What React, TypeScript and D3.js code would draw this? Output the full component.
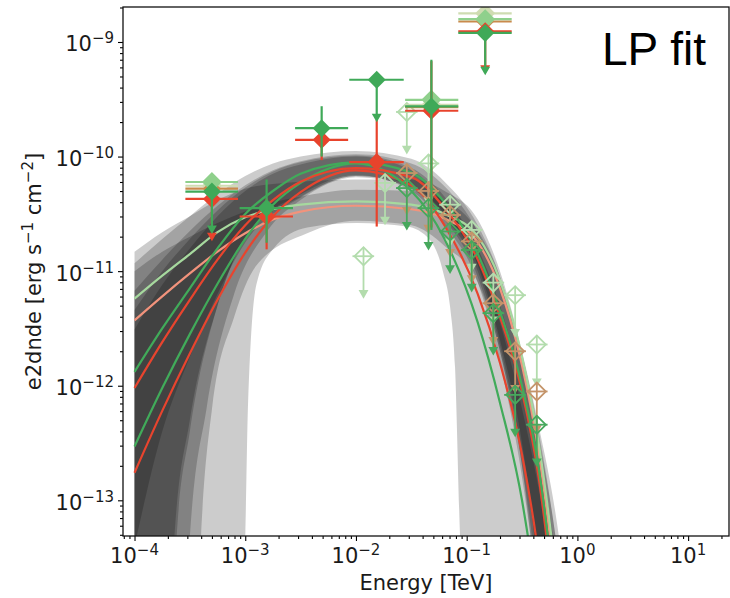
import React, { useEffect, useRef } from "react";
import * as d3 from "d3";

const width = 730;
const height = 598;
const plot = { left: 123, right: 729, top: 7, bottom: 536 };

const energyDomain = [7.87e-5, 23.4];
const fluxDomain = [4.88e-14, 2.02e-9];

const energyMajor = [1e-4, 1e-3, 1e-2, 1e-1, 1, 10];
const energyExp = ["−4", "−3", "−2", "−1", "0", "1"];
const fluxMajor = [1e-13, 1e-12, 1e-11, 1e-10, 1e-9];
const fluxExp = ["−13", "−12", "−11", "−10", "−9"];

// shared energy grid [TeV] for model curves and band upper edges
const gridEnergy = [1e-4, 1.78e-4, 3.16e-4, 5.62e-4, 1e-3, 1.78e-3, 3.16e-3, 1e-2, 3.16e-2, 6.31e-2, 0.126, 0.2, 0.316, 0.447, 0.631, 0.891];

// LP model curves, e2dnde [erg s-1 cm-2]
const lgCurve = [5.75e-12, 9.12e-12, 1.41e-11, 2.19e-11, 2.95e-11, 3.47e-11, 3.8e-11, 4.07e-11, 3.8e-11, 3.16e-11, 2.0e-11, 8.32e-12, 1.78e-12, 3.16e-13, 2.51e-14, 1e-15];
const slCurve = [3.72e-12, 6.03e-12, 9.55e-12, 1.48e-11, 2.14e-11, 2.82e-11, 3.31e-11, 3.72e-11, 3.47e-11, 2.88e-11, 1.78e-11, 7.08e-12, 1.51e-12, 2.63e-13, 2.0e-14, 1e-15];
const g1Curve = [1.32e-12, 3.16e-12, 7.08e-12, 1.58e-11, 3.16e-11, 5.01e-11, 7.08e-11, 8.91e-11, 7.24e-11, 3.98e-11, 1.41e-11, 4.47e-12, 1.0e-12, 1.91e-13, 1.26e-14, 3.16e-16];
const r1Curve = [9.55e-13, 2.4e-12, 5.62e-12, 1.26e-11, 2.51e-11, 4.17e-11, 6.03e-11, 7.94e-11, 6.61e-11, 3.55e-11, 1.26e-11, 3.98e-12, 8.91e-13, 1.58e-13, 1e-14, 3.16e-16];
const g2Curve = [2.95e-13, 9.55e-13, 2.82e-12, 7.76e-12, 1.91e-11, 3.8e-11, 5.89e-11, 8.71e-11, 5.01e-11, 1.91e-11, 3.55e-12, 7.08e-13, 1e-13, 1e-14, 3.16e-16, 1e-17];
const r2Curve = [1.74e-13, 6.03e-13, 1.91e-12, 5.62e-12, 1.45e-11, 3.02e-11, 4.9e-11, 7.59e-11, 5.62e-11, 2.51e-11, 6.31e-12, 1.58e-12, 2.51e-13, 3.16e-14, 1e-15, 3.16e-17];

// error bands: upper edges on the grid, lower edges on their own energies
const bandAHigh = [1.48e-11, 2.19e-11, 3.02e-11, 4.17e-11, 5.25e-11, 5.75e-11, 6.03e-11, 6.31e-11, 6.31e-11, 5.01e-11, 2.82e-11, 1.0e-11, 2.0e-12, 4.47e-13, 7.94e-14, 6.31e-15];
const bandALowEnergy = [1e-4, 8.91e-4, 1e-3, 1.06e-3, 1.26e-3, 1.78e-3, 3.63e-3, 1.02e-2, 2.88e-2, 4.68e-2, 6.17e-2, 7.08e-2, 7.85e-2, 8.71e-2, 0.1, 0.891];
const bandALow = [1e-16, 3.16e-15, 4.79e-14, 6.92e-13, 7.59e-12, 1.55e-11, 2.4e-11, 2.63e-11, 2.45e-11, 1.86e-11, 9.55e-12, 4.9e-12, 1.45e-12, 4.79e-14, 3.16e-15, 1e-16];

const bandSlHigh = [1.0e-11, 1.48e-11, 2.0e-11, 2.63e-11, 3.31e-11, 3.98e-11, 4.47e-11, 5.13e-11, 5.01e-11, 4.17e-11, 2.24e-11, 8.91e-12, 1.91e-12, 3.98e-13, 5.01e-14, 3.16e-15];
const bandSlLowEnergy = [1e-4, 3.55e-4, 3.98e-4, 5.01e-4, 7.94e-4, 1.26e-3, 3.63e-3, 1e-2, 3.16e-2, 6.31e-2, 0.126, 0.2, 0.316, 0.398, 0.891];
const bandSlLow = [1e-16, 3.16e-15, 4.79e-14, 6.31e-13, 3.98e-12, 1.12e-11, 2.14e-11, 2.75e-11, 2.51e-11, 1.66e-11, 7.94e-12, 2.0e-12, 2.0e-13, 3.16e-14, 1e-16];

const bandU1High = [1.17e-11, 1.91e-11, 3.02e-11, 4.68e-11, 6.76e-11, 8.71e-11, 1.0e-10, 1.12e-10, 9.55e-11, 6.03e-11, 2.51e-11, 8.91e-12, 1.78e-12, 3.55e-13, 5.01e-14, 3.16e-15];
const bandU1LowEnergy = [1e-4, 2.14e-4, 2.4e-4, 3.16e-4, 5.62e-4, 1e-3, 3.16e-3, 1e-2, 3.16e-2, 6.31e-2, 0.126, 0.2, 0.316, 0.398, 0.501, 0.891];
const bandU1Low = [1e-16, 3.16e-15, 4.79e-14, 3.98e-13, 5.01e-12, 1.91e-11, 4.47e-11, 6.76e-11, 5.62e-11, 3.16e-11, 1.12e-11, 2.51e-12, 3.16e-13, 6.31e-14, 5.01e-15, 1e-16];

const bandU2High = [6.76e-12, 1.26e-11, 2.24e-11, 3.72e-11, 5.62e-11, 7.59e-11, 9.12e-11, 1.05e-10, 8.71e-11, 5.5e-11, 2.19e-11, 7.59e-12, 1.51e-12, 2.82e-13, 3.55e-14, 2.51e-15];
const bandU2LowEnergy = [1e-4, 2.82e-4, 3.16e-4, 4.47e-4, 7.94e-4, 1.58e-3, 3.16e-3, 1e-2, 3.16e-2, 6.31e-2, 0.126, 0.2, 0.316, 0.417, 0.501, 0.891];
const bandU2Low = [1e-16, 3.16e-15, 4.79e-14, 6.31e-13, 6.31e-12, 2.24e-11, 4.17e-11, 6.61e-11, 5.37e-11, 2.95e-11, 1.0e-11, 2.24e-12, 2.51e-13, 3.98e-14, 5.01e-15, 1e-16];

const bandU3High = [4.57e-12, 1e-11, 1.91e-11, 3.39e-11, 5.37e-11, 7.41e-11, 8.91e-11, 1.02e-10, 7.94e-11, 4.47e-11, 1.58e-11, 5.01e-12, 1e-12, 2.0e-13, 2.51e-14, 1.58e-15];
const bandU3LowEnergy = [1e-4, 2.0e-4, 2.29e-4, 3.16e-4, 5.62e-4, 1e-3, 3.16e-3, 1e-2, 3.16e-2, 6.31e-2, 0.126, 0.2, 0.316, 0.398, 0.501, 0.891];
const bandU3Low = [1e-16, 3.16e-15, 4.79e-14, 5.01e-13, 5.01e-12, 2.0e-11, 4.68e-11, 6.92e-11, 5.01e-11, 2.51e-11, 7.94e-12, 1.58e-12, 1.58e-13, 3.16e-14, 3.16e-15, 1e-16];

const bandU4High = [3.09e-12, 7.59e-12, 1.58e-11, 3.02e-11, 5.01e-11, 7.08e-11, 8.51e-11, 1.0e-10, 7.59e-11, 3.98e-11, 1.26e-11, 3.55e-12, 6.31e-13, 1.26e-13, 1.58e-14, 1e-15];
const bandU4LowEnergy = [1e-4, 1.78e-4, 3.16e-4, 5.62e-4, 1e-3, 3.16e-3, 1e-2, 3.16e-2, 6.31e-2, 0.126, 0.2, 0.316, 0.398, 0.501, 0.891];
const bandU4Low = [3.98e-14, 3.98e-13, 1.78e-12, 6.31e-12, 1.78e-11, 4.37e-11, 6.76e-11, 5.25e-11, 2.82e-11, 8.91e-12, 2.0e-12, 2.0e-13, 3.98e-14, 3.98e-15, 1e-16];

// flux points (6 bins)
const binEnergy = [5.0e-4, 1.56e-3, 4.9e-3, 1.54e-2, 4.8e-2, 0.147];
const binLow = [2.88e-4, 8.9e-4, 2.82e-3, 8.7e-3, 2.78e-2, 8.4e-2];
const binHigh = [8.6e-4, 2.7e-3, 8.5e-3, 2.7e-2, 8.4e-2, 0.255];

const greenFlux = [4.95e-11, 3.55e-11, 1.77e-10, 4.68e-10, 2.74e-10, 1.2e-9];
const greenErrLow = [null, 1.77e-11, 1.0e-10, null, 2.29e-11, null];
const greenErrHigh = [null, 6.3e-11, 2.75e-10, null, 7.0e-10, null];
const greenUl = [true, false, false, true, false, true];

const redFlux = [4.27e-11, 3.0e-11, 1.4e-10, 8.95e-11, 2.51e-10, 1.24e-9];
const redErrLow = [null, 1.55e-11, 9.3e-11, 2.45e-11, 2.4e-11, null];
const redErrHigh = [null, 4.3e-11, 1.6e-10, 2.09e-10, 6.8e-10, null];
const redUl = [true, false, false, false, false, true];

const lightFlux = [6.0e-11, null, null, null, 3.13e-10, 1.58e-9];
const paleFlux = [5.56e-11, null, null, null, 2.83e-10, 1.78e-9];
const orangeFlux = [5.25e-11, null, null, null, 2.7e-10, 1.51e-9];

// upper limits (open diamonds)
const ulEnergy = [1.17e-2, 1.83e-2, 2.88e-2, 4.52e-2, 7.08e-2, 0.111, 0.174, 0.274, 0.43];
const ulLow = [9.3e-3, 1.46e-2, 2.3e-2, 3.6e-2, 5.65e-2, 8.87e-2, 0.139, 0.218, 0.343];
const ulHigh = [1.46e-2, 2.3e-2, 3.6e-2, 5.65e-2, 8.87e-2, 0.139, 0.218, 0.343, 0.538];
const ulPaleFlux = [1.35e-11, 5.89e-11, 2.45e-10, 8.71e-11, 3.8e-11, 2.29e-11, 7.94e-12, 6.17e-12, 2.29e-12];
const ulOliveFlux = [null, null, 7.18e-11, 5.01e-11, 3.09e-11, 1.82e-11, 5.25e-12, 2.0e-12, 8.91e-13];
const ulGreenFlux = [null, null, 5.31e-11, 3.55e-11, 2.22e-11, 1.53e-11, 4.3e-12, 8.32e-13, 4.57e-13];

const font = "DejaVu Sans, sans-serif";

export default function App() {
  const ref = useRef<SVGSVGElement | null>(null);

  useEffect(() => {
    const svg = d3.select(ref.current);
    svg.selectAll("*").remove();

    const x = d3.scaleLog().domain(energyDomain).range([plot.left, plot.right]);
    const y = d3.scaleLog().domain(fluxDomain).range([plot.bottom, plot.top]);

    svg.append("rect").attr("width", width).attr("height", height).attr("fill", "#fff");
    svg.append("defs").append("clipPath").attr("id", "plotclip")
      .append("rect")
      .attr("x", plot.left).attr("y", plot.top)
      .attr("width", plot.right - plot.left).attr("height", plot.bottom - plot.top);

    const g = svg.append("g").attr("clip-path", "url(#plotclip)");

    const line = d3.line<[number, number]>()
      .x(d => x(d[0]))
      .y(d => y(d[1]))
      .curve(d3.curveMonotoneX);
    const zip = (es: number[], vs: number[]) => es.map((e, i) => [e, vs[i]] as [number, number]);

    // gray error bands (black, alpha 0.2 each)
    const bands = [
      [bandAHigh, bandALowEnergy, bandALow],
      [bandSlHigh, bandSlLowEnergy, bandSlLow],
      [bandU1High, bandU1LowEnergy, bandU1Low],
      [bandU2High, bandU2LowEnergy, bandU2Low],
      [bandU3High, bandU3LowEnergy, bandU3Low],
      [bandU4High, bandU4LowEnergy, bandU4Low],
    ];
    bands.forEach(([hi, loE, lo]) => {
      const top = line(zip(gridEnergy, hi)) as string;
      const bottom = line(zip(loE, lo).reverse()) as string;
      g.append("path")
        .attr("d", top + "L" + bottom.slice(1) + "Z")
        .attr("fill", "#000")
        .attr("fill-opacity", 0.2);
    });

    // model lines
    const curves: [number[], string][] = [
      [slCurve, "#f2937c"],
      [lgCurve, "#a6d99e"],
      [r2Curve, "#e8442e"],
      [g2Curve, "#41ab5a"],
      [r1Curve, "#e8442e"],
      [g1Curve, "#41ab5a"],
    ];
    curves.forEach(([vals, color]) => {
      g.append("path")
        .attr("d", line(zip(gridEnergy, vals)) as string)
        .attr("fill", "none")
        .attr("stroke", color)
        .attr("stroke-width", 2.2);
    });

    const diamond = (r: number) => d3.symbol(d3.symbolSquare, 2 * r * r)() as string;
    const arrow = d3.symbol(d3.symbolTriangle, 42)() as string;

    const drawArrow = (px: number, py: number, color: string) => {
      g.append("path")
        .attr("d", arrow)
        .attr("transform", `translate(${px},${py - 3}) rotate(180)`)
        .attr("fill", color);
    };

    // open-diamond upper limits
    const drawUl = (flux: (number | null)[], color: string) => {
      flux.forEach((f, i) => {
        if (f == null) return;
        const px = x(ulEnergy[i]);
        const py = y(f);
        const pEnd = y(f * 0.45);
        g.append("line").attr("x1", x(ulLow[i])).attr("x2", x(ulHigh[i]))
          .attr("y1", py).attr("y2", py).attr("stroke", color).attr("stroke-width", 1.8);
        g.append("line").attr("x1", px).attr("x2", px)
          .attr("y1", py - 9).attr("y2", pEnd).attr("stroke", color).attr("stroke-width", 1.8);
        drawArrow(px, pEnd, color);
        g.append("path").attr("d", diamond(9))
          .attr("transform", `translate(${px},${py}) rotate(45)`)
          .attr("fill", "none").attr("stroke", color).attr("stroke-width", 1.8);
      });
    };
    drawUl(ulPaleFlux, "#b3dcad");
    drawUl(ulOliveFlux, "#c4946a");
    drawUl(ulGreenFlux, "#47a85d");

    // filled flux points
    const drawPoints = (
      flux: (number | null)[],
      errLow: (number | null)[] | null,
      errHigh: (number | null)[] | null,
      ul: boolean[] | null,
      color: string,
      r: number
    ) => {
      flux.forEach((f, i) => {
        if (f == null) return;
        const px = x(binEnergy[i]);
        const py = y(f);
        g.append("line").attr("x1", x(binLow[i])).attr("x2", x(binHigh[i]))
          .attr("y1", py).attr("y2", py).attr("stroke", color).attr("stroke-width", 2.2);
        if (ul && ul[i]) {
          const pEnd = y(f * 0.45);
          g.append("line").attr("x1", px).attr("x2", px).attr("y1", py).attr("y2", pEnd)
            .attr("stroke", color).attr("stroke-width", 2.2);
          drawArrow(px, pEnd, color);
        } else if (errLow && errHigh) {
          g.append("line").attr("x1", px).attr("x2", px)
            .attr("y1", y(errHigh[i] as number)).attr("y2", y(errLow[i] as number))
            .attr("stroke", color).attr("stroke-width", 2.2);
        }
        g.append("path").attr("d", diamond(r))
          .attr("transform", `translate(${px},${py}) rotate(45)`)
          .attr("fill", color);
      });
    };
    drawPoints(paleFlux, null, null, null, "#cfdcb2", 10);
    drawPoints(orangeFlux, null, null, null, "#c98a4c", 9);
    drawPoints(lightFlux, null, null, null, "#8fd08c", 10);
    drawPoints(redFlux, redErrLow, redErrHigh, redUl, "#e8432c", 9);
    drawPoints(greenFlux, greenErrLow, greenErrHigh, greenUl, "#3fa958", 9);

    // axes
    const minorX = x.ticks().filter(t => !energyMajor.some(m => Math.abs(m - t) / m < 1e-6));
    const minorY = y.ticks().filter(t => !fluxMajor.some(m => Math.abs(m - t) / m < 1e-6));

    const axisStyle = (sel: d3.Selection<SVGGElement, unknown, null, undefined>) => {
      sel.select(".domain").remove();
      sel.selectAll("line").attr("stroke", "#000").attr("stroke-width", 1.1);
    };

    svg.append("g").attr("transform", `translate(0,${plot.bottom})`)
      .call(d3.axisBottom(x).tickValues(energyMajor).tickSize(5).tickFormat(() => ""))
      .call(axisStyle);
    svg.append("g").attr("transform", `translate(0,${plot.bottom})`)
      .call(d3.axisBottom(x).tickValues(minorX).tickSize(3).tickFormat(() => ""))
      .call(axisStyle);
    svg.append("g").attr("transform", `translate(${plot.left},0)`)
      .call(d3.axisLeft(y).tickValues(fluxMajor).tickSize(5).tickFormat(() => ""))
      .call(axisStyle);
    svg.append("g").attr("transform", `translate(${plot.left},0)`)
      .call(d3.axisLeft(y).tickValues(minorY).tickSize(3).tickFormat(() => ""))
      .call(axisStyle);

    svg.append("rect")
      .attr("x", plot.left).attr("y", plot.top)
      .attr("width", plot.right - plot.left).attr("height", plot.bottom - plot.top)
      .attr("fill", "none").attr("stroke", "#111").attr("stroke-width", 1.3);

    energyMajor.forEach((t, i) => {
      const txt = svg.append("text")
        .attr("x", x(t)).attr("y", 563)
        .attr("text-anchor", "middle")
        .attr("font-family", font).attr("font-size", 21).attr("fill", "#1a1a1a");
      txt.append("tspan").text("10");
      txt.append("tspan").attr("dy", -8).attr("font-size", 15).text(energyExp[i]);
    });
    fluxMajor.forEach((t, i) => {
      const txt = svg.append("text")
        .attr("x", 114).attr("y", y(t) + 9.5)
        .attr("text-anchor", "end")
        .attr("font-family", font).attr("font-size", 21).attr("fill", "#1a1a1a");
      txt.append("tspan").text("10");
      txt.append("tspan").attr("dy", -8).attr("font-size", 15).text(fluxExp[i]);
    });

    svg.append("text")
      .attr("x", (plot.left + plot.right) / 2).attr("y", 590)
      .attr("text-anchor", "middle")
      .attr("font-family", font).attr("font-size", 21).attr("fill", "#1a1a1a")
      .text("Energy [TeV]");

    const yl = svg.append("text")
      .attr("transform", `translate(41,${(plot.top + plot.bottom) / 2}) rotate(-90)`)
      .attr("text-anchor", "middle")
      .attr("font-family", font).attr("font-size", 21).attr("fill", "#1a1a1a");
    yl.append("tspan").text("e2dnde [erg s");
    yl.append("tspan").attr("dy", -8).attr("font-size", 15).text("−1");
    yl.append("tspan").attr("dy", 8).text(" cm");
    yl.append("tspan").attr("dy", -8).attr("font-size", 15).text("−2");
    yl.append("tspan").attr("dy", 8).text("]");

    svg.append("text")
      .attr("x", 602).attr("y", 65)
      .attr("font-family", "Liberation Sans, Arial, sans-serif")
      .attr("font-size", 46).attr("fill", "#000")
      .text("LP fit");
  }, []);

  return (
    <svg
      ref={ref}
      width={width}
      height={height}
      style={{ position: "absolute", left: 0, top: 0, display: "block" }}
    />
  );
}
